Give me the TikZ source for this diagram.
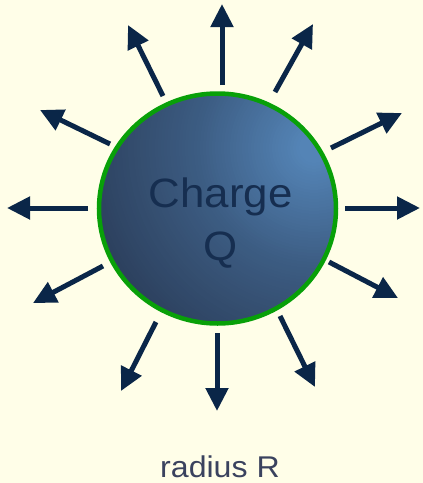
\documentclass[tikz,border=0pt]{standalone}
\usepackage{fontspec}
\setmainfont{Liberation Sans}[FakeStretch=1.07]
\usetikzlibrary{arrows.meta,shapes.geometric}

\definecolor{bgcream}{RGB}{255,254,232}
\definecolor{rimgreen}{RGB}{8,160,8}
\definecolor{arrownavy}{RGB}{10,38,72}
\definecolor{labelnavy}{RGB}{22,46,80}
\definecolor{captiongray}{RGB}{58,66,94}
\definecolor{ballhi}{RGB}{84,132,182}
\definecolor{ballmid}{RGB}{60,92,130}
\definecolor{balllo}{RGB}{42,60,88}

\tikzset{
  fieldline/.style={arrownavy, line width=5pt,
    -{Triangle[length=23pt,width=22pt]}},
  chargetext/.style={text=labelnavy, inner sep=0pt,
    font=\fontsize{41}{49}\selectfont},
  captiontext/.style={text=captiongray, inner sep=0pt,
    font=\fontsize{30}{36}\selectfont},
}

\begin{document}
\begin{tikzpicture}[x=1pt,y=-1pt]
  % page
  \fill[bgcream] (0,0) rectangle (423,483);
  \useasboundingbox (0,0) rectangle (423,483);

  % the charged sphere: dark body, glowing toward the upper right
  \begin{scope}
    \clip (217.5,208.5) ellipse [x radius=118.5pt, y radius=115pt];
    \fill[balllo] (90,80) rectangle (345,335);
    \foreach \k in {85,84,...,1} {
      \pgfmathsetmacro\rad{3*\k}
      \ifdim\rad pt>120pt
        \pgfmathtruncatemacro\pct{max(0,100*(250-\rad)/130)}
        \fill[ballmid!\pct!balllo] (314,148) circle (\rad);
      \else
        \pgfmathtruncatemacro\pct{min(100,100*(120-\rad)/105)}
        \fill[ballhi!\pct!ballmid] (314,148) circle (\rad);
      \fi
    }
  \end{scope}
  \node[ellipse, minimum width=237pt, minimum height=230pt, inner sep=0pt,
        draw=rimgreen, line width=4.5pt] (charge) at (217.5,208.5) {};

  \node[chargetext, anchor=base] (lblA) at (220.5,207) {Charge};
  \node[chargetext, anchor=base] (lblB) at (220.5,260) {Q};

  % field line end points (tail, tip)
  \coordinate (t1)  at (222,85);  \coordinate (h1)  at (222,4);
  \coordinate (t2)  at (275,92);  \coordinate (h2)  at (313,24);
  \coordinate (t3)  at (331,148); \coordinate (h3)  at (402,113);
  \coordinate (t4)  at (345,208); \coordinate (h4)  at (420,208);
  \coordinate (t5)  at (329,262); \coordinate (h5)  at (398,298);
  \coordinate (t6)  at (280,316); \coordinate (h6)  at (315,387);
  \coordinate (t7)  at (217,333); \coordinate (h7)  at (217,411);
  \coordinate (t8)  at (156,322); \coordinate (h8)  at (121,391);
  \coordinate (t9)  at (103,266); \coordinate (h9)  at (33,303);
  \coordinate (t10) at (88,208);  \coordinate (h10) at (7,208);
  \coordinate (t11) at (110,144); \coordinate (h11) at (40,110);
  \coordinate (t12) at (163,96);  \coordinate (h12) at (128,25);

  \foreach \i in {1,...,12}
    \draw[fieldline] (t\i) -- (h\i);

  \node[captiontext, anchor=base] (caption) at (220,477) {radius R};
\end{tikzpicture}
\end{document}
